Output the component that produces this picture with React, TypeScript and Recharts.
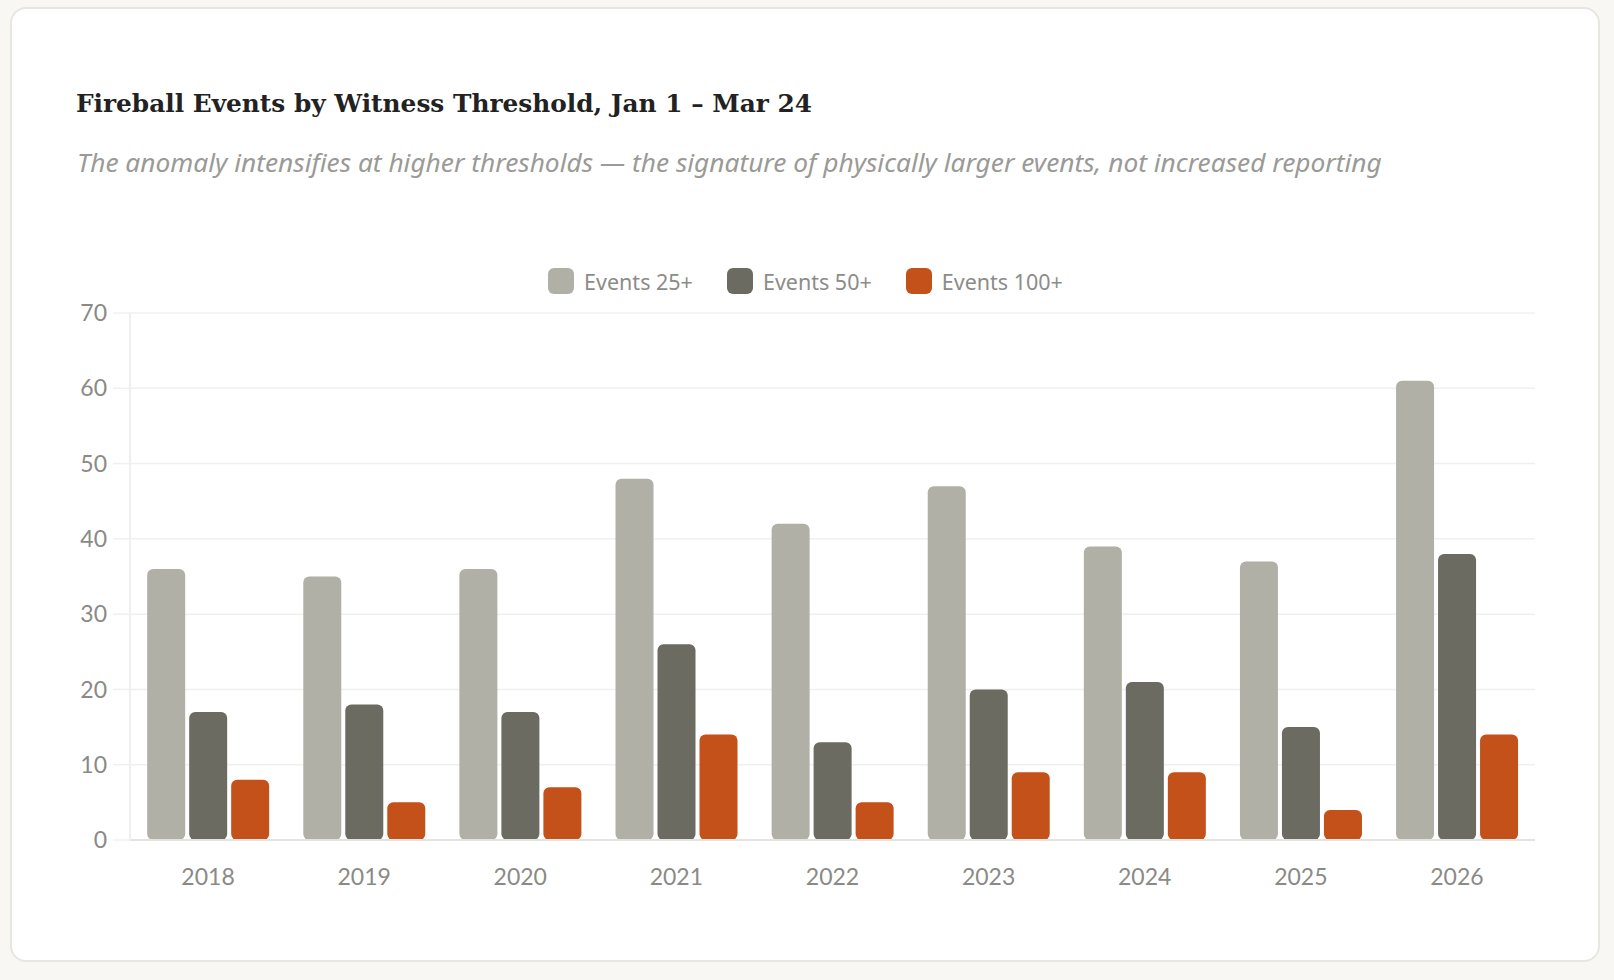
import { BarChart, Bar, XAxis, YAxis, CartesianGrid, Legend } from "recharts";

const years = ["2018", "2019", "2020", "2021", "2022", "2023", "2024", "2025", "2026"];
const events25 = [36, 35, 36, 48, 42, 47, 39, 37, 61];
const events50 = [17, 18, 17, 26, 13, 20, 21, 15, 38];
const events100 = [8, 5, 7, 14, 5, 9, 9, 4, 14];
const seriesNames = ["Events 25+", "Events 50+", "Events 100+"];
const yTicks = [0, 10, 20, 30, 40, 50, 60, 70];

const data = years.map((year, i) => ({
  year,
  e25: events25[i],
  e50: events50[i],
  e100: events100[i],
}));

const labelFont = "Lato, 'Noto Sans', sans-serif";

function LegendRow(props: any) {
  const items = [...(props.payload || [])].sort(
    (a: any, b: any) => seriesNames.indexOf(a.value) - seriesNames.indexOf(b.value)
  );
  return (
    <div style={{ height: 52, display: "flex", justifyContent: "center", alignItems: "flex-start" }}>
      {items.map((it: any) => (
        <div key={it.value} style={{ display: "flex", alignItems: "center", height: 40, margin: "0 17px" }}>
          <span
            style={{
              width: 26,
              height: 26,
              borderRadius: 6,
              background: it.color,
              marginRight: 10,
              display: "inline-block",
            }}
          />
          <span style={{ fontFamily: "'Noto Sans', sans-serif", fontSize: 21.5, color: "#8c8c88" }}>{it.value}</span>
        </div>
      ))}
    </div>
  );
}

export default function App() {
  return (
    <div style={{ position: "fixed", inset: 0, background: "#f8f7f4" }}>
      <div
        style={{
          position: "absolute",
          left: 10,
          top: 7,
          width: 1586,
          height: 951,
          background: "#ffffff",
          border: "2px solid #e7e6e1",
          borderRadius: 16,
        }}
      />
      <div
        style={{
          position: "absolute",
          left: 76,
          top: 86,
          fontFamily: "'DejaVu Serif', serif",
          fontWeight: 700,
          fontSize: 24.8,
          color: "#222",
          lineHeight: "36px",
        }}
      >
        Fireball Events by Witness Threshold, Jan 1 – Mar 24
      </div>
      <div
        style={{
          position: "absolute",
          left: 77,
          top: 144,
          fontFamily: "'Noto Sans', sans-serif",
          fontStyle: "italic",
          fontSize: 26.3,
          color: "#9a9a96",
          lineHeight: "36px",
        }}
      >
        The anomaly intensifies at higher thresholds — the signature of physically larger events, not increased reporting
      </div>
      <div style={{ position: "absolute", left: 76, top: 249 }}>
        <BarChart
          width={1459}
          height={651}
          data={data}
          margin={{ top: 12, right: 0, bottom: 0, left: 0 }}
          barGap={4}
          barCategoryGap="11%"
        >
          <CartesianGrid vertical={false} stroke="#f0f0ee" strokeWidth={1.5} />
          <Legend verticalAlign="top" content={<LegendRow />} />
          <XAxis
            dataKey="year"
            axisLine={{ stroke: "#e3e3e0", strokeWidth: 2 }}
            tickLine={false}
            tickSize={6}
            tickMargin={23}
            height={60}
            tick={{ fontFamily: labelFont, fontSize: 23, fill: "#8a8a86" }}
          />
          <YAxis
            width={54}
            domain={[0, 70]}
            ticks={yTicks}
            axisLine={{ stroke: "#efefed", strokeWidth: 2 }}
            tickLine={{ stroke: "#f0f0ee", strokeWidth: 1.5 }}
            tickSize={17}
            tickMargin={6}
            tick={{ fontFamily: labelFont, fontSize: 23, fill: "#8a8a86" }}
          />
          <Bar dataKey="e25" name="Events 25+" fill="#b0b0a6" radius={6} isAnimationActive={false} />
          <Bar dataKey="e50" name="Events 50+" fill="#6b6b62" radius={6} isAnimationActive={false} />
          <Bar dataKey="e100" name="Events 100+" fill="#c4501a" radius={6} isAnimationActive={false} />
        </BarChart>
      </div>
    </div>
  );
}
